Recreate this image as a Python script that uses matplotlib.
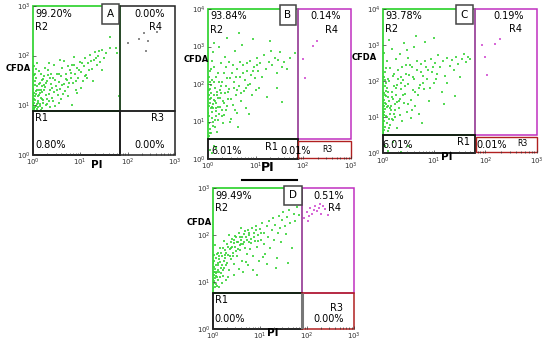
import numpy as np
import matplotlib
matplotlib.use("Agg")
import matplotlib.pyplot as plt
from matplotlib.patches import Rectangle
from matplotlib.lines import Line2D

# all point values are log10 decades (PI, CFDA)
a_pts = [(0.02,0.95),(0.05,1.10),(0.03,1.25),(0.08,1.02),(0.10,1.18),(0.04,1.40),(0.12,1.31),(0.15,0.98),(0.07,1.55),(0.18,1.12),
         (0.20,1.27),(0.22,1.05),(0.14,1.45),(0.25,1.36),(0.09,0.92),(0.28,1.20),(0.30,1.48),(0.17,1.62),(0.33,1.08),(0.35,1.30),
         (0.01,1.33),(0.06,1.72),(0.38,1.42),(0.40,1.15),(0.24,1.58),(0.42,1.55),(0.45,1.26),(0.19,0.94),(0.48,1.38),(0.50,1.62),
         (0.11,1.08),(0.27,1.00),(0.52,1.20),(0.55,1.47),(0.32,1.70),(0.58,1.33),(0.60,1.58),(0.36,0.96),(0.62,1.75),(0.65,1.42),
         (0.13,1.20),(0.23,1.40),(0.68,1.28),(0.70,1.63),(0.44,1.80),(0.72,1.50),(0.75,1.36),(0.78,1.70),(0.54,1.05),(0.80,1.55),
         (0.03,1.05),(0.16,1.30),(0.83,1.82),(0.85,1.45),(0.66,1.90),(0.88,1.62),(0.90,1.30),(0.93,1.75),(0.74,1.18),(0.96,1.55),
         (0.07,1.22),(0.29,1.12),(0.99,1.88),(1.02,1.66),(0.86,1.98),(1.05,1.48),(1.08,1.78),(1.10,1.95),(0.92,1.25),(1.13,1.60),
         (0.21,1.52),(0.39,1.62),(1.16,1.85),(1.20,2.02),(1.02,1.35),(1.24,1.72),(1.28,1.92),(1.31,2.08),(1.15,1.55),(1.35,1.80),
         (0.05,1.48),(0.46,0.98),(1.38,2.00),(1.42,1.88),(1.26,1.48),(1.46,2.12),(1.50,1.96),(1.55,2.05),(1.45,1.70),(1.62,2.15),
         (1.63,2.37),(1.75,2.15),(1.78,2.05),(1.82,1.19),(0.82,1.00),(0.60,1.12),(0.34,1.85),(0.57,1.92),(0.12,1.68),(0.26,1.75),
         (0.01,1.00),(0.04,1.18),(0.09,1.38),(0.02,1.60),(0.11,0.96),(0.06,1.28),(0.16,1.15),(0.14,1.02),(0.03,0.92),(0.19,1.38),
         (0.02,1.12),(0.05,0.96),(0.08,1.30),(0.10,1.05),(0.13,1.42),(0.01,1.20),(0.04,1.62),(0.07,0.99),(0.15,1.25),(0.18,1.50),
         (0.21,1.10),(0.24,1.30),(0.27,1.45),(0.30,1.02),(0.33,1.22),(0.36,1.55),(0.40,1.35),(0.43,1.08),(0.47,1.50),(0.51,1.30),
         (0.56,1.62),(0.61,1.40),(0.64,1.22),(0.69,1.52),(0.73,1.78),(0.77,1.45),(0.81,1.65),(0.87,1.80),(0.91,1.48),(0.97,1.70),
         (1.04,1.85),(1.09,1.58),(1.18,1.70),(1.22,1.90),(1.33,1.95),(1.40,2.10),(0.02,1.78),(0.09,1.85),(0.16,0.91),(0.31,1.60)]
a_r4 = [(2.01,2.25),(2.24,2.33),(2.35,2.45),(2.43,2.29),(2.39,2.09),(2.62,2.47)]

b_pts = [(0.02,0.62),(0.05,0.80),(0.03,0.95),(0.08,1.10),(0.01,1.22),(0.06,1.35),(0.10,1.48),(0.04,1.60),(0.12,1.72),(0.02,1.85),
         (0.07,1.98),(0.15,1.05),(0.18,1.28),(0.14,1.55),(0.20,1.80),(0.09,2.10),(0.22,1.40),(0.25,1.62),(0.11,0.88),(0.28,1.95),
         (0.16,2.20),(0.30,1.15),(0.33,1.50),(0.05,2.35),(0.35,1.75),(0.24,2.05),(0.38,1.30),(0.40,2.15),(0.19,0.72),(0.42,1.60),
         (0.13,2.45),(0.45,1.88),(0.48,1.08),(0.27,2.55),(0.50,2.30),(0.52,1.45),(0.55,2.05),(0.32,0.95),(0.58,1.70),(0.60,2.40),
         (0.03,1.42),(0.21,1.62),(0.62,1.22),(0.65,1.95),(0.36,2.72),(0.68,2.20),(0.70,1.55),(0.08,2.62),(0.73,2.50),(0.75,1.82),
         (0.17,1.15),(0.44,2.60),(0.78,2.10),(0.80,1.35),(0.82,2.35),(0.57,2.88),(0.85,1.98),(0.88,2.62),(0.46,1.00),(0.90,2.25),
         (0.06,1.75),(0.29,1.32),(0.93,1.70),(0.96,2.45),(0.72,3.05),(0.99,2.15),(1.02,2.70),(0.63,0.85),(1.05,2.35),(1.08,1.90),
         (0.23,3.00),(0.10,2.85),(1.10,2.55),(1.14,2.20),(0.95,3.20),(1.18,2.78),(1.22,2.40),(1.25,1.65),(1.28,2.60),(1.32,2.88),
         (0.40,3.22),(0.86,1.20),(1.35,2.50),(1.40,2.70),(1.44,2.30),(1.48,2.65),(1.52,2.85),(1.55,2.45),(1.60,2.58),(1.66,2.40),
         (1.72,2.70),(1.82,2.83),(1.45,1.90),(1.56,1.52),(1.30,3.15),(0.66,3.35),(0.12,3.10),(0.34,2.30),(0.54,1.90),(0.26,1.85),
         (0.01,1.05),(0.04,1.50),(0.09,1.25),(0.02,1.70),(0.14,1.90),(0.07,0.70),(0.18,1.50),(0.11,1.35),(0.05,2.05),(0.23,1.20),
         (0.01,0.90),(0.03,1.15),(0.06,1.62),(0.04,1.88),(0.08,1.40),(0.10,1.00),(0.12,1.58),(0.13,2.05),(0.16,1.35),(0.19,1.72),
         (0.21,1.05),(0.22,2.30),(0.25,1.40),(0.27,1.75),(0.30,2.05),(0.31,1.55),(0.34,1.18),(0.37,1.95),(0.39,2.45),(0.41,1.42),
         (0.43,1.78),(0.47,2.15),(0.49,1.60),(0.53,2.50),(0.56,1.30),(0.59,2.20),(0.61,1.85),(0.67,2.60),(0.69,1.75),(0.74,2.30),
         (0.79,1.90),(0.83,2.55),(0.89,2.00),(0.94,2.35),(1.00,1.85),(1.04,2.50),(0.02,2.20),(0.07,2.40),(0.15,0.85),(0.04,0.70)]
b_r1 = [(0.05,0.25),(0.12,0.35),(0.08,0.15),(0.18,0.30)]
b_r4 = [(1.99,2.67),(2.03,2.16),(2.20,3.01),(2.28,3.15)]

c_pts = [(0.01,0.55),(0.04,0.72),(0.02,0.88),(0.07,1.02),(0.03,1.15),(0.09,1.28),(0.05,1.40),(0.11,1.55),(0.02,1.68),(0.08,1.82),
         (0.13,0.95),(0.16,1.20),(0.12,1.45),(0.18,1.70),(0.06,1.95),(0.21,1.10),(0.24,1.35),(0.10,2.05),(0.26,1.60),(0.15,0.78),
         (0.28,1.88),(0.19,2.15),(0.31,1.25),(0.34,1.50),(0.04,2.25),(0.36,1.78),(0.23,1.00),(0.39,2.02),(0.14,2.35),(0.41,1.40),
         (0.44,1.65),(0.30,2.30),(0.47,1.15),(0.49,1.92),(0.08,2.55),(0.52,2.18),(0.55,1.48),(0.37,0.90),(0.58,1.75),(0.25,2.62),
         (0.61,2.05),(0.63,1.30),(0.45,2.45),(0.66,2.32),(0.69,1.60),(0.18,2.90),(0.72,1.90),(0.75,2.48),(0.54,0.98),(0.78,2.15),
         (0.02,1.30),(0.33,2.75),(0.81,1.78),(0.84,2.40),(0.60,2.95),(0.87,2.05),(0.90,1.45),(0.93,2.60),(0.70,1.10),(0.96,2.25),
         (0.06,1.58),(0.27,1.42),(0.99,1.95),(1.02,2.50),(0.82,3.08),(1.05,2.20),(1.08,2.72),(0.42,3.05),(1.11,2.38),(1.15,1.70),
         (0.22,1.85),(0.12,3.15),(1.18,2.55),(1.22,2.15),(1.00,3.20),(1.26,2.65),(1.30,2.42),(1.20,1.35),(1.34,2.58),(1.38,2.30),
         (0.50,2.65),(0.77,0.85),(1.42,2.68),(1.46,2.48),(1.50,2.10),(1.54,2.60),(1.58,2.75),(1.62,2.52),(1.66,2.68),(1.70,2.62),
         (1.40,1.58),(1.25,1.95),(0.65,3.25),(0.03,2.78),(0.35,2.10),(0.16,1.32),(0.48,2.85),(0.10,0.62),(0.28,0.70),(0.57,2.38),
         (0.01,1.10),(0.05,1.22),(0.03,1.48),(0.09,0.85),(0.07,1.72),(0.14,1.10),(0.20,1.50),(0.04,2.02),(0.11,1.30),(0.17,0.95),
         (0.01,0.80),(0.03,1.05),(0.05,1.60),(0.04,1.85),(0.07,1.35),(0.09,1.00),(0.11,1.70),(0.13,2.00),(0.15,1.25),(0.18,1.55),
         (0.20,0.92),(0.22,2.20),(0.24,1.20),(0.26,1.80),(0.29,2.05),(0.31,1.45),(0.33,1.05),(0.36,1.95),(0.38,2.40),(0.40,1.60),
         (0.43,1.85),(0.46,2.20),(0.50,1.35),(0.53,2.45),(0.56,1.20),(0.59,2.10),(0.62,1.70),(0.67,2.55),(0.70,1.80),(0.74,2.25),
         (0.79,1.95),(0.83,2.55),(0.88,2.30),(0.92,1.80),(0.98,2.40),(1.03,2.05),(0.02,2.10),(0.06,2.35),(0.12,0.70),(0.03,0.65)]
c_r1 = [(0.05,0.20),(0.20,0.30),(0.50,0.20),(0.10,0.05),(0.35,0.04)]
c_r4 = [(1.93,3.00),(2.18,3.03),(2.28,3.17),(2.00,2.67),(2.03,2.17)]

d_pts = [(0.01,0.88),(0.03,1.02),(0.02,1.15),(0.05,1.28),(0.01,1.40),(0.06,0.95),(0.08,1.10),(0.04,1.22),(0.10,1.35),(0.07,1.50),
         (0.12,1.05),(0.14,1.20),(0.11,1.62),(0.16,1.42),(0.09,0.92),(0.18,1.30),(0.20,1.55),(0.15,1.72),(0.22,1.12),(0.24,1.45),
         (0.26,1.68),(0.19,0.98),(0.28,1.35),(0.30,1.80),(0.32,1.58),(0.23,1.88),(0.34,1.25),(0.36,1.70),(0.38,1.48),(0.40,1.92),
         (0.27,1.05),(0.42,1.62),(0.44,1.82),(0.35,2.00),(0.46,1.38),(0.48,1.75),(0.50,1.95),(0.52,1.55),(0.54,1.85),(0.45,1.15),
         (0.56,2.05),(0.58,1.68),(0.60,1.90),(0.62,1.45),(0.64,1.80),(0.66,2.02),(0.55,1.28),(0.68,1.72),(0.70,1.95),(0.72,1.60),
         (0.74,2.10),(0.76,1.85),(0.65,1.20),(0.78,2.00),(0.80,1.70),(0.82,1.92),(0.84,2.15),(0.86,1.55),(0.88,2.05),(0.75,1.35),
         (0.90,1.88),(0.92,2.20),(0.94,1.75),(0.96,2.00),(0.98,1.45),(1.00,2.12),(1.02,1.90),(0.85,1.25),(1.05,2.25),(1.08,1.80),
         (1.10,2.05),(1.12,1.60),(1.15,2.18),(1.18,1.95),(1.20,2.30),(0.95,1.15),(1.22,1.72),(1.25,2.10),(1.28,2.35),(1.30,1.90),
         (1.33,2.22),(1.36,1.50),(1.38,2.05),(1.40,2.40),(1.43,2.15),(1.46,1.85),(1.48,2.32),(1.50,2.48),(1.53,2.20),(1.56,2.02),
         (1.58,2.38),(1.62,2.52),(1.65,2.25),(1.68,1.72),(1.72,2.45),(1.76,2.30),(1.80,2.60),(1.84,2.42),(1.60,1.40),(1.35,1.30),
         (0.13,0.90),(0.33,1.10),(0.05,1.78),(0.21,1.25),(0.47,1.98),(0.61,2.15),(1.16,1.38),(1.06,1.52),(0.71,1.42),(0.02,1.58),
         (0.01,1.05),(0.03,1.32),(0.06,1.12),(0.09,1.22),(0.02,0.98),(0.13,1.48),(0.17,1.18),(0.25,1.58),(0.39,1.72),(0.57,1.78),
         (0.01,0.95),(0.02,1.22),(0.04,1.08),(0.03,1.45),(0.05,0.90),(0.06,1.35),(0.08,1.60),(0.07,1.18),(0.10,1.25),(0.12,1.40),
         (0.14,1.55),(0.16,1.10),(0.18,1.62),(0.20,1.35),(0.22,1.72),(0.24,1.30),(0.26,1.50),(0.29,1.62),(0.31,1.40),(0.33,1.75),
         (0.36,1.55),(0.38,1.85),(0.41,1.75),(0.43,1.55),(0.46,1.90),(0.49,1.65),(0.51,1.85),(0.53,1.70),(0.57,1.95),(0.59,1.80),
         (0.63,1.95),(0.67,1.85),(0.69,2.08),(0.73,1.90),(0.77,2.05),(0.81,1.82),(0.87,1.95),(0.91,2.10),(0.97,1.88),(1.03,2.05)]
d_r4 = [(1.95,2.35),(2.00,2.48),(2.05,2.40),(2.08,2.58),(2.12,2.45),(2.15,2.52),(2.18,2.62),(2.22,2.50),
        (2.26,2.58),(2.30,2.45),(2.35,2.62),(2.40,2.55),(2.46,2.42),(2.02,2.30),(2.28,2.66)]

# gate cuts (log10 PI, log10 CFDA) and the percentages
cuts = {"A": (1.84, 0.89), "B": (1.88, 0.53), "C": (1.79, 0.50), "D": (1.91, 0.77)}
pct = {"A": ("99.20%", "0.00%", "0.80%", "0.00%"),
       "B": ("93.84%", "0.14%", "6.01%", "0.01%"),
       "C": ("93.78%", "0.19%", "6.01%", "0.01%"),
       "D": ("99.49%", "0.51%", "0.00%", "0.00%")}
ytop = {"A": 3, "B": 4, "C": 4, "D": 3}
# bottom row label spots for B and C: 6.01%, R1, 0.01%, R3
low_x = {"B": (0.08, 1.20, 1.53, 2.40), "C": (0.0, 1.44, 1.83, 2.62)}

GREEN = "#38d438"
MAG = "#d24fd2"

fig = plt.figure(figsize=(5.5, 3.48), dpi=100)
fig.patch.set_facecolor("white")


def P(v):
    return 10.0 ** v


def draw(rect, name, pts, extra):
    ax = fig.add_axes(rect)
    ax.set_xscale("log")
    ax.set_yscale("log")
    ax.set_xlim(1, 1000)
    yt = ytop[name]
    ax.set_ylim(1, P(yt))
    for s in ax.spines.values():
        s.set_visible(False)
    ax.tick_params(which="both", direction="in", labelsize=5, pad=1.5, width=0.5, colors="#333333")
    ax.tick_params(which="major", length=2.5)
    ax.tick_params(which="minor", length=1.2)
    ax.tick_params(axis="y", which="minor", left=False)

    p = np.array(pts)
    ax.scatter(P(p[:, 0]), P(p[:, 1]), s=2.8, marker="s", color=GREEN, linewidths=0, alpha=0.85)
    for pp, col in extra:
        q = np.array(pp)
        ax.scatter(P(q[:, 0]), P(q[:, 1]), s=2.0, marker="s", color=col, linewidths=0, alpha=0.85)

    xc, yc = cuts[name]
    r4col = "#222222" if name == "A" else "#c030c0"
    r3col = "#222222" if name == "A" else "#b02020"
    ax.add_patch(Rectangle((1, P(yc)), P(xc) - 1, P(yt) - P(yc), fill=False, ec=GREEN, lw=1.3, clip_on=False))
    ax.add_patch(Rectangle((P(xc), P(yc)), 1000 - P(xc), P(yt) - P(yc), fill=False, ec=r4col, lw=1.1, clip_on=False))
    ax.add_patch(Rectangle((1, 1), P(xc) - 1, P(yc) - 1, fill=False, ec="#111111", lw=1.3, clip_on=False))
    if name in ("B", "C"):
        ax.add_patch(Rectangle((P(xc + 0.02), P(0.03)), 1000 - P(xc + 0.02), P(yc - 0.05) - P(0.03),
                               fill=False, ec=r3col, lw=1.0, clip_on=False))
    else:
        ax.add_patch(Rectangle((P(xc), 1), 1000 - P(xc), P(yc) - 1, fill=False, ec=r3col, lw=1.1, clip_on=False))
    if name == "D":
        ax.plot([P(xc), P(xc)], [1, P(yc)], color="#777777", lw=2.2, solid_capstyle="butt")

    r2, r4, r1, r3 = pct[name]
    fs = 7
    ax.text(P(0.05), P(yt - 0.06), r2, fontsize=fs, va="top", ha="left")
    ax.text(P(0.05), P(yt - 0.06 - 0.09 * yt), "R2", fontsize=fs, va="top", ha="left")
    ax.text(P(2.15), P(yt - 0.06), r4, fontsize=fs, va="top", ha="left")
    ax.text(P(2.45), P(yt - 0.06 - 0.09 * yt), "R4", fontsize=fs, va="top", ha="left")
    if name in ("B", "C"):
        x1, x2, x3, x4 = low_x[name]
        ax.text(P(x1), P(0.22), r1, fontsize=fs, va="center", ha="left")
        ax.text(P(x2), P(0.31), "R1", fontsize=fs, va="center", ha="left")
        ax.text(P(x3), P(0.22), r3, fontsize=fs, va="center", ha="left")
        ax.text(P(x4), P(0.26), "R3", fontsize=5.5, va="center", ha="left")
    else:
        ax.text(P(0.04), P(yc - 0.04), "R1", fontsize=fs, va="top", ha="left")
        ax.text(P(0.04), P(0.2), r1, fontsize=fs, va="center", ha="left")
        ax.text(P(2.5), P(yc - 0.04 - (0.18 if name == "D" else 0)), "R3", fontsize=fs, va="top", ha="left")
        ax.text(P(2.15), P(0.2), r3, fontsize=fs, va="center", ha="left")
    # panel letter box
    ax.text(P(xc - 0.2), P(yt - 0.16), name, fontsize=7.5, ha="center", va="center",
            bbox=dict(boxstyle="square,pad=0.45", fc="white", ec="#444444", lw=1.1))
    return ax


draw([0.060, 0.555, 0.258, 0.428], "A", a_pts, [(a_r4, "#777777")])
draw([0.378, 0.543, 0.260, 0.431], "B", b_pts, [(b_r1, GREEN), (b_r4, MAG)])
draw([0.696, 0.560, 0.280, 0.414], "C", c_pts, [(c_r1, GREEN), (c_r4, MAG)])
draw([0.387, 0.055, 0.256, 0.405], "D", d_pts, [(d_r4, MAG)])

# axis names
for x, y in [(0.033, 0.802), (0.356, 0.828), (0.662, 0.836), (0.362, 0.362)]:
    fig.text(x, y, "CFDA", fontsize=6, fontweight="bold", ha="center", va="center")
for x, y, f in [(0.176, 0.526, 7.5), (0.487, 0.52, 9), (0.813, 0.549, 7.5), (0.496, 0.043, 7.5)]:
    fig.text(x, y, "PI", fontsize=f, fontweight="bold", ha="center", va="center")

# stray line above panel D
fig.add_artist(Line2D([0.44, 0.54], [0.483, 0.483], color="black", lw=1.5))

fig.savefig("out.png", dpi=100)
